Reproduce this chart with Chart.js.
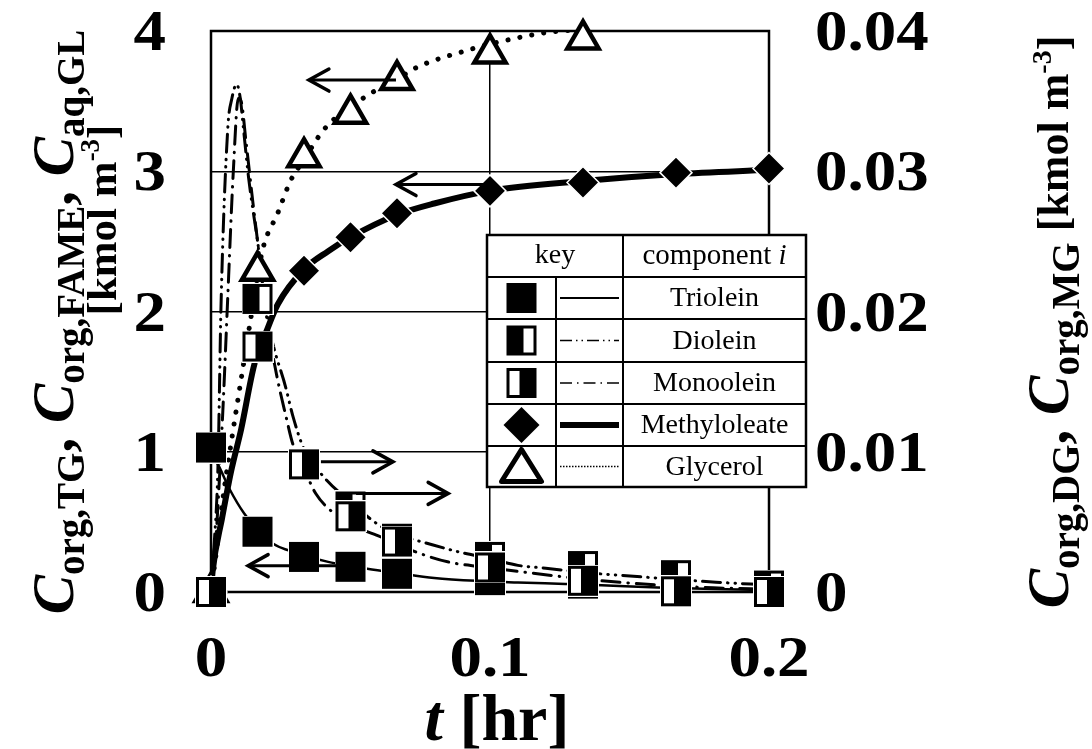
<!DOCTYPE html>
<html>
<head>
<meta charset="utf-8">
<script src="https://cdn.jsdelivr.net/npm/chart.js@4.4.0/dist/chart.umd.min.js"></script>
<style>
  html, body { margin: 0; padding: 0; background: #fff; }
  canvas { display: block; }
</style>
</head>
<body>
<canvas id="kinetics" width="1092" height="749"></canvas>
<script>
"use strict";

// sampling times [hr]
var tData  = [0, 1/60, 2/60, 3/60, 4/60, 6/60, 8/60, 10/60, 12/60];
var glTime = [0, 1/60, 2/60, 3/60, 4/60, 6/60, 8/60];

// measured concentrations [kmol m-3]
var tgData   = [1.03, 0.43, 0.25, 0.18, 0.13, 0.085, 0.06, 0.04, 0.03];
var fameData = [0, 1.75, 2.29, 2.53, 2.70, 2.86, 2.92, 2.99, 3.02];
var glData   = [0, 2.29, 3.10, 3.41, 3.65, 3.84, 3.94];
var dgData   = [0, 0.0209, 0.0092, 0.0061, 0.0038, 0.0025, 0.00185, 0.0012, 0.00046];
var mgData   = [0, 0.0175, 0.0091, 0.0054, 0.0036, 0.00175, 0.0008, 0.00005, 0];

// model curves
var tgCurveT = [0, 0.003, 0.0065, 0.0119, 0.0167, 0.0226, 0.028, 0.0333, 0.042, 0.05, 0.056, 0.0667, 0.08, 0.0968, 0.11, 0.127, 0.14, 0.16, 0.18, 0.2];
var tgCurve  = [1.0, 0.89, 0.74, 0.56, 0.45, 0.34, 0.295, 0.26, 0.215, 0.185, 0.165, 0.135, 0.10, 0.078, 0.068, 0.057, 0.048, 0.032, 0.022, 0.014];

var fameCurveT = [0, 0.0006, 0.004, 0.0072, 0.0108, 0.0155, 0.0203, 0.0239, 0.0333, 0.042, 0.05, 0.0667, 0.08, 0.1, 0.1333, 0.1667, 0.2];
var fameCurve  = [0, 0.15, 0.53, 0.86, 1.16, 1.62, 1.88, 2.05, 2.30, 2.43, 2.53, 2.69, 2.77, 2.86, 2.93, 2.98, 3.01];

var glCurveT = [0, 0.002, 0.0045, 0.0072, 0.0113, 0.0145, 0.0185, 0.0239, 0.0287, 0.0333, 0.0394, 0.044, 0.05, 0.0585, 0.0667, 0.0717, 0.0932, 0.105, 0.1207, 0.1333, 0.1667, 0.2];
var glCurve  = [0, 0.3, 0.7, 1.06, 1.58, 1.98, 2.44, 2.70, 2.94, 3.08, 3.27, 3.37, 3.46, 3.57, 3.65, 3.72, 3.87, 3.93, 3.99, 4.01, 4.04, 4.05];

var dgCurveT = [0, 0.001, 0.0025, 0.0036, 0.006, 0.0075, 0.0092, 0.0105, 0.0114, 0.0135, 0.0167, 0.0208, 0.0269, 0.0294, 0.0333, 0.04, 0.05, 0.06, 0.0667, 0.077, 0.09, 0.1, 0.11, 0.12, 0.1333, 0.146, 0.1667, 0.181, 0.2];
var dgCurve  = [0, 0.003, 0.009, 0.0205, 0.0330, 0.0352, 0.0362, 0.0352, 0.0335, 0.0295, 0.0250, 0.0190, 0.0145, 0.0125, 0.0102, 0.0083, 0.0064, 0.0048, 0.0041, 0.0035, 0.0028, 0.0024, 0.0019, 0.0017, 0.0014, 0.0012, 0.0009, 0.0007, 0.0005];

var mgCurveT = [0, 0.0015, 0.003, 0.0045, 0.006, 0.008, 0.0098, 0.0108, 0.0125, 0.015, 0.0167, 0.02, 0.0235, 0.0269, 0.0294, 0.0333, 0.0376, 0.0441, 0.05, 0.06, 0.0667, 0.077, 0.086, 0.097, 0.113, 0.13, 0.14, 0.16, 0.18, 0.2];
var mgCurve  = [0, 0.003, 0.008, 0.014, 0.021, 0.030, 0.0352, 0.0350, 0.0322, 0.0278, 0.0250, 0.0195, 0.0155, 0.0125, 0.0105, 0.0088, 0.0070, 0.0056, 0.0048, 0.0040, 0.0034, 0.0026, 0.0021, 0.0018, 0.0014, 0.0010, 0.0008, 0.0005, 0.0003, 0.0002];

// axis ticks
var tTicks  = [0, 0.1, 0.2];
var yTicks  = [0, 1, 2, 3, 4];
var y2Ticks = [0, 0.01, 0.02, 0.03, 0.04];

// arrows telling which axis a series belongs to (data units)
var arrows = [
    { axis: 'y',  y: 3.65,    from: 0.0663, to: 0.0351 },
    { axis: 'y',  y: 2.905,   from: 0.1,    to: 0.0663 },
    { axis: 'y',  y: 0.188,   from: 0.05,   to: 0.0133 },
    { axis: 'y2', y: 0.00928, from: 0.0394, to: 0.0652 },
    { axis: 'y2', y: 0.00703, from: 0.052,  to: 0.085 }
];

var SERIF = "'Liberation Serif', 'Times New Roman', serif";
function fnt(size, italic, bold) {
    return (italic ? 'italic ' : '') + (bold === false ? '' : 'bold ') + size + 'px ' + SERIF;
}

function pairs(xs, ys) {
    return xs.map(function (x, i) { return { x: x, y: ys[i] }; });
}

// square markers: solid, left-black (diolein), right-black (monoolein)
function squareMarker(kind) {
    var c = document.createElement('canvas');
    c.width = 32; c.height = 32;
    var g = c.getContext('2d');
    g.fillStyle = '#fff';
    g.fillRect(0, 0, 32, 32);
    g.fillStyle = '#000';
    g.fillRect(1, 1, 30, 30);
    g.fillStyle = '#fff';
    if (kind === 'dg') g.fillRect(18, 4, 10, 24);
    if (kind === 'mg') g.fillRect(4, 4, 10, 24);
    return c;
}
var markTG = squareMarker('tg');
var markDG = squareMarker('dg');
var markMG = squareMarker('mg');

function curve(label, xs, ys, axis, width, dash, order) {
    return {
        label: label,
        data: pairs(xs, ys),
        yAxisID: axis,
        showLine: true,
        borderColor: '#000',
        borderWidth: width,
        borderDash: dash,
        borderCapStyle: dash.length ? 'round' : 'butt',
        cubicInterpolationMode: 'monotone',
        pointRadius: 0,
        order: order
    };
}

function markers(label, xs, ys, axis, style, order, extra) {
    var ds = {
        label: label,
        data: pairs(xs, ys),
        yAxisID: axis,
        showLine: false,
        pointStyle: style,
        pointRadius: 16,
        clip: false,
        order: order
    };
    for (var k in extra) ds[k] = extra[k];
    return ds;
}

// rich text: array of parts {t, size, italic, shift}
function richWidth(g, parts) {
    var w = 0;
    parts.forEach(function (p) { g.font = fnt(p.size, p.italic); w += g.measureText(p.t).width; });
    return w;
}
function drawRich(g, parts, x, y) {
    var cx = x - richWidth(g, parts) / 2;
    parts.forEach(function (p) {
        g.font = fnt(p.size, p.italic);
        g.fillText(p.t, cx, y + (p.shift || 0));
        cx += g.measureText(p.t).width;
    });
}
function drawRotated(g, parts, bx, cy) {
    g.save();
    g.translate(bx, cy);
    g.rotate(-Math.PI / 2);
    drawRich(g, parts, 0, 0);
    g.restore();
}

var leftTitle1 = [
    { t: 'C', size: 59, italic: true }, { t: 'org,TG', size: 39, shift: 11 }, { t: ', ', size: 59 },
    { t: 'C', size: 59, italic: true }, { t: 'org,FAME', size: 39, shift: 11 }, { t: ', ', size: 59 },
    { t: 'C', size: 59, italic: true }, { t: 'aq,GL', size: 39, shift: 11 }
];
var leftTitle2 = [
    { t: '[kmol m', size: 43 }, { t: '-3', size: 27, shift: -17 }, { t: ']', size: 43 }
];
var rightTitle = [
    { t: 'C', size: 59, italic: true }, { t: 'org,DG', size: 39, shift: 11 }, { t: ', ', size: 59 },
    { t: 'C', size: 59, italic: true }, { t: 'org,MG', size: 39, shift: 11 },
    { t: ' [kmol m', size: 44 }, { t: '-3', size: 28, shift: -17 }, { t: ']', size: 44 }
];
var bottomTitle = [
    { t: 't', size: 66, italic: true }, { t: ' [hr]', size: 66 }
];

// frame around the plot area
var framePlugin = {
    id: 'frame',
    beforeDatasetsDraw: function (chart) {
        var a = chart.chartArea, g = chart.ctx;
        g.save();
        g.strokeStyle = '#000';
        g.lineWidth = 2.5;
        g.strokeRect(a.left, a.top, a.right - a.left, a.bottom - a.top);
        g.restore();
    }
};

// tick labels are drawn a little wider than the plain font
var TICK = 58, TICK_SX = 1.12;
function tickText(g, text, x, y, align) {
    g.save();
    g.translate(x, y);
    g.scale(TICK_SX, 1);
    g.textAlign = align;
    g.fillText(text, 0, 0);
    g.restore();
}

// tick labels and axis titles
var labelPlugin = {
    id: 'labels',
    afterDraw: function (chart) {
        var g = chart.ctx, s = chart.scales;
        g.save();
        g.fillStyle = '#000';
        g.font = fnt(TICK);
        s.y.ticks.forEach(function (t) {
            tickText(g, String(t.value), 166, s.y.getPixelForValue(t.value) + 19, 'right');
        });
        s.y2.ticks.forEach(function (t) {
            tickText(g, t.value === 0 ? '0' : t.value.toFixed(2), 815, s.y2.getPixelForValue(t.value) + 19, 'left');
        });
        s.x.ticks.forEach(function (t) {
            tickText(g, t.value === 0 ? '0' : t.value.toFixed(1), s.x.getPixelForValue(t.value), 676, 'center');
        });
        g.textAlign = 'left';
        drawRotated(g, leftTitle1, 73, 322);
        drawRotated(g, leftTitle2, 116, 220);
        drawRotated(g, rightTitle, 1068, 322);
        drawRich(g, bottomTitle, 497, 740);
        g.restore();
    }
};

function drawArrow(g, x0, y0, x1, y1) {
    var dir = x1 > x0 ? 1 : -1;
    g.lineWidth = 3;
    g.lineCap = 'butt';
    g.beginPath();
    g.moveTo(x0, y0);
    g.lineTo(x1, y1);
    g.stroke();
    g.lineWidth = 3.5;
    g.lineCap = 'round';
    g.beginPath();
    g.moveTo(x1 - dir * 20, y1 - 11);
    g.lineTo(x1, y1);
    g.lineTo(x1 - dir * 20, y1 + 11);
    g.stroke();
}

var arrowPlugin = {
    id: 'arrows',
    afterDatasetsDraw: function (chart) {
        var g = chart.ctx, x = chart.scales.x;
        g.save();
        g.strokeStyle = '#000';
        g.lineJoin = 'miter';
        arrows.forEach(function (a) {
            var py = chart.scales[a.axis].getPixelForValue(a.y);
            drawArrow(g, x.getPixelForValue(a.from), py, x.getPixelForValue(a.to), py);
        });
        g.restore();
    }
};

// key table inside the plot
var legendRows = [
    { name: 'Triolein',     mark: 'tg',  width: 2,   dash: [] },
    { name: 'Diolein',      mark: 'dg',  width: 1.5, dash: [12, 4, 1.5, 4, 1.5, 4] },
    { name: 'Monoolein',    mark: 'mg',  width: 1.5, dash: [12, 5, 1.5, 5] },
    { name: 'Methyloleate', mark: 'dia', width: 6,   dash: [] },
    { name: 'Glycerol',     mark: 'tri', width: 1.5, dash: [1.5, 1.5] }
];

var keyPlugin = {
    id: 'key',
    afterDatasetsDraw: function (chart) {
        var g = chart.ctx;
        var L = 487, R = 806, T = 235, B = 487;
        var c1 = 556, c2 = 623;
        var rows = [235, 277, 319, 362, 404, 446, 487];
        g.save();
        g.fillStyle = '#fff';
        g.fillRect(L, T, R - L, B - T);
        g.strokeStyle = '#000';
        g.lineWidth = 2;
        g.beginPath();
        for (var i = 1; i < rows.length - 1; i++) {
            g.moveTo(L, rows[i]); g.lineTo(R, rows[i]);
        }
        g.moveTo(c1, rows[1]); g.lineTo(c1, B);
        g.moveTo(c2, T); g.lineTo(c2, B);
        g.stroke();
        g.lineWidth = 2.5;
        g.strokeRect(L, T, R - L, B - T);

        g.fillStyle = '#000';
        g.textAlign = 'center';
        g.textBaseline = 'middle';
        g.font = fnt(28, false, false);
        g.fillText('key', (L + c2) / 2, (rows[0] + rows[1]) / 2);
        var comp = [{ t: 'component ', size: 29 }, { t: 'i', size: 29, italic: true }];
        g.textAlign = 'left';
        var w = 0;
        comp.forEach(function (p) { g.font = fnt(p.size, p.italic, false); w += g.measureText(p.t).width; });
        var cx = (c2 + R) / 2 - w / 2;
        comp.forEach(function (p) {
            g.font = fnt(p.size, p.italic, false);
            g.fillText(p.t, cx, (rows[0] + rows[1]) / 2);
            cx += g.measureText(p.t).width;
        });

        legendRows.forEach(function (r, i) {
            var cy = (rows[i + 1] + rows[i + 2]) / 2;
            var mx = (L + c1) / 2;
            if (r.mark === 'tg' || r.mark === 'dg' || r.mark === 'mg') {
                var m = r.mark === 'tg' ? markTG : (r.mark === 'dg' ? markDG : markMG);
                g.drawImage(m, mx - 16, cy - 16, 32, 32);
            } else if (r.mark === 'dia') {
                g.beginPath();
                g.moveTo(mx - 18, cy); g.lineTo(mx, cy - 18); g.lineTo(mx + 18, cy); g.lineTo(mx, cy + 18);
                g.closePath();
                g.fill();
            } else {
                g.save();
                g.lineWidth = 5;
                g.lineJoin = 'round';
                g.beginPath();
                g.moveTo(mx, cy - 17); g.lineTo(mx + 20, cy + 15); g.lineTo(mx - 20, cy + 15);
                g.closePath();
                g.stroke();
                g.restore();
            }
            g.save();
            g.lineWidth = r.width;
            g.setLineDash(r.dash);
            g.beginPath();
            g.moveTo(c1 + 4, cy); g.lineTo(c2 - 4, cy);
            g.stroke();
            g.restore();
            g.textAlign = 'center';
            g.font = fnt(28, false, false);
            g.fillText(r.name, (c2 + R) / 2, cy + 1);
        });
        g.restore();
    }
};

var ctx = document.getElementById('kinetics').getContext('2d');
var chart = new Chart(ctx, {
    type: 'scatter',
    data: {
        datasets: [
            markers('Monoolein', tData, mgData, 'y2', markMG, 1),
            markers('Diolein', tData, dgData, 'y2', markDG, 2),
            markers('Triolein', tData, tgData, 'y', markTG, 3),
            markers('Methyloleate', tData, fameData, 'y', 'rectRot', 4,
                { pointRadius: 16, backgroundColor: '#000', borderColor: '#fff', borderWidth: 1.5 }),
            markers('Glycerol', glTime, glData, 'y', 'triangle', 5,
                { pointRadius: 18, backgroundColor: '#fff', borderColor: '#000', borderWidth: 4.5 }),
            curve('Triolein model', tgCurveT, tgCurve, 'y', 2.5, [], 10),
            curve('Diolein model', dgCurveT, dgCurve, 'y2', 3, [18, 7, 0.5, 7, 0.5, 7], 11),
            curve('Monoolein model', mgCurveT, mgCurve, 'y2', 3, [18, 8, 0.5, 8], 12),
            curve('Methyloleate model', fameCurveT, fameCurve, 'y', 6, [], 13),
            curve('Glycerol model', glCurveT, glCurve, 'y', 5, [0.1, 12], 14)
        ]
    },
    options: {
        responsive: false,
        animation: false,
        devicePixelRatio: 1,
        events: [],
        layout: { padding: { top: 31, left: 0, right: 0, bottom: 0 } },
        plugins: { legend: { display: false }, tooltip: { enabled: false } },
        scales: {
            x: {
                type: 'linear', position: 'bottom', min: 0, max: 0.2,
                afterBuildTicks: function (s) { s.ticks = tTicks.map(function (v) { return { value: v }; }); },
                ticks: { display: false },
                grid: { color: '#000', lineWidth: 1.5, drawTicks: false },
                border: { display: false },
                afterFit: function (s) { s.height = 157; }
            },
            y: {
                type: 'linear', position: 'left', min: 0, max: 4,
                afterBuildTicks: function (s) { s.ticks = yTicks.map(function (v) { return { value: v }; }); },
                ticks: { display: false },
                grid: { color: '#000', lineWidth: 1.5, drawTicks: false },
                border: { display: false },
                afterFit: function (s) { s.width = 211; }
            },
            y2: {
                type: 'linear', position: 'right', min: 0, max: 0.04,
                afterBuildTicks: function (s) { s.ticks = y2Ticks.map(function (v) { return { value: v }; }); },
                ticks: { display: false },
                grid: { display: false },
                border: { display: false },
                afterFit: function (s) { s.width = 323; }
            }
        }
    },
    plugins: [framePlugin, arrowPlugin, keyPlugin, labelPlugin]
});
</script>
</body>
</html>
